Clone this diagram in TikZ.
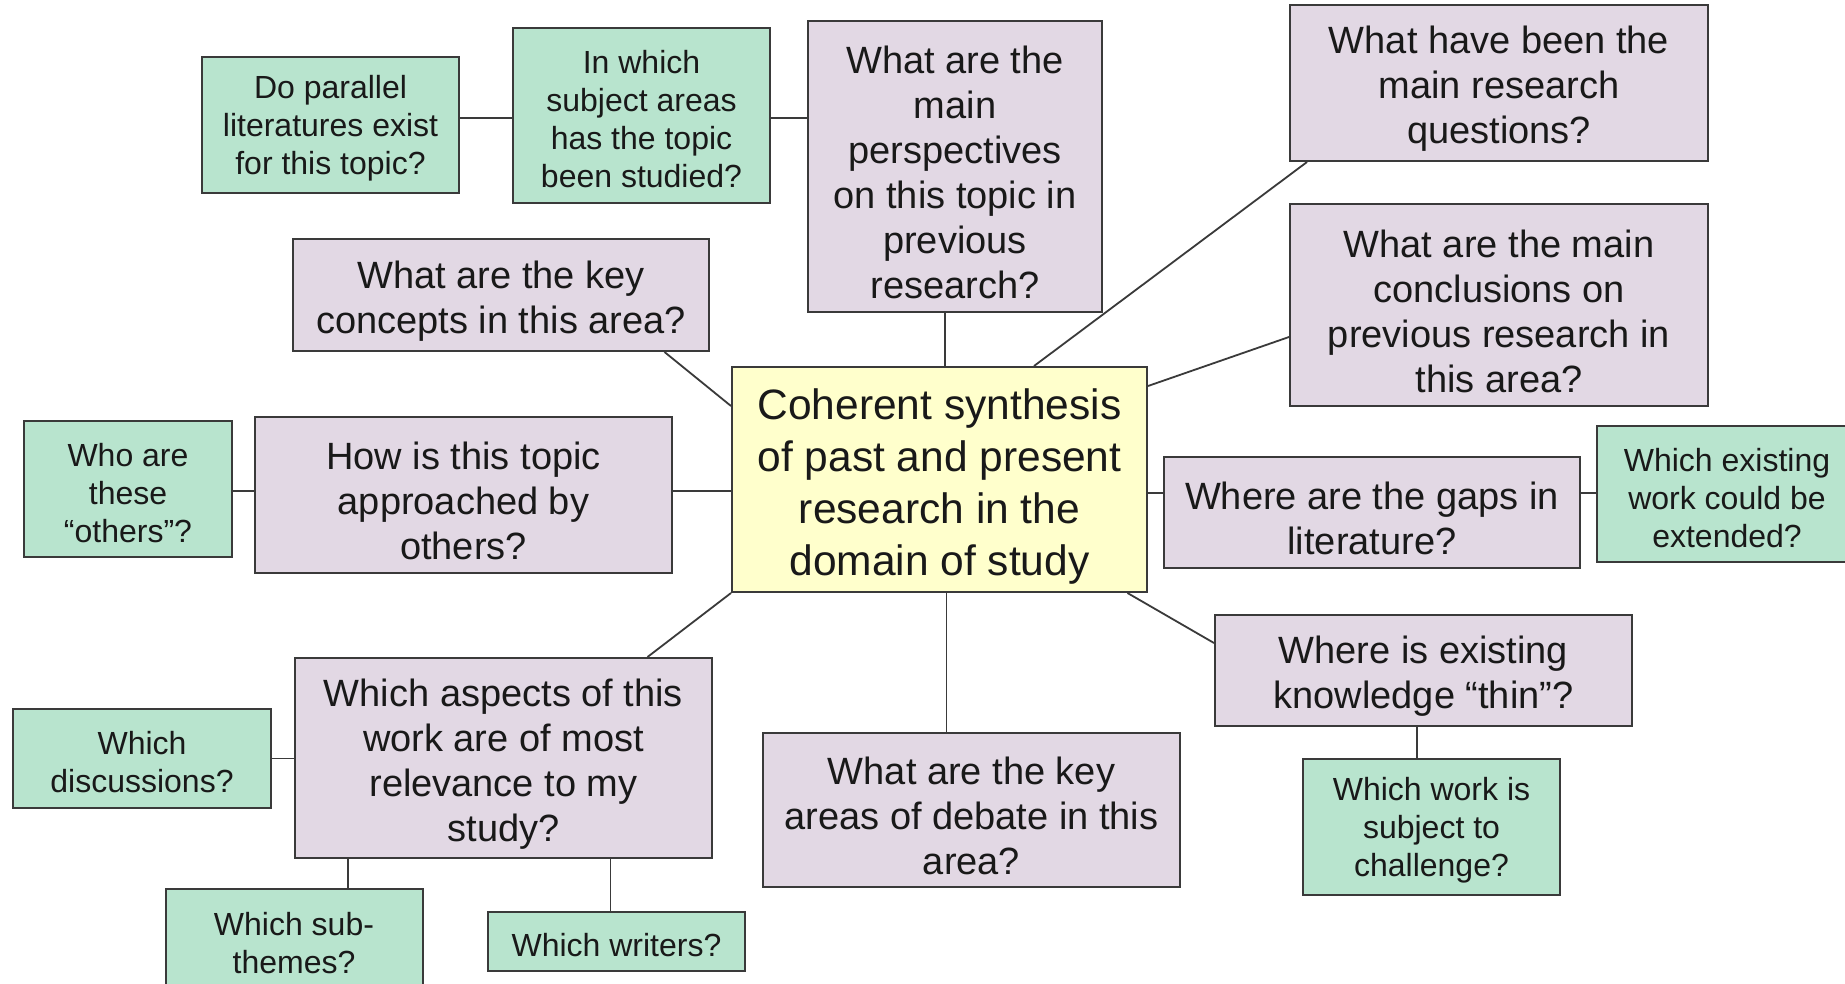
\documentclass[tikz,border=0pt]{standalone}
\usepackage{fontspec}
\setmainfont{Liberation Sans}
\definecolor{pur}{HTML}{E2D8E4}
\definecolor{grn}{HTML}{B8E4CE}
\definecolor{yel}{HTML}{FFFFCC}
\definecolor{edge}{HTML}{3A3A3A}
\newcommand\tpp{\rule{0pt}{1.04em}}
\newcommand\tpg{\rule{0pt}{0.95em}}
\begin{document}
\begin{tikzpicture}[x=1pt,y=-1pt,
  box/.style={draw=edge,line width=2pt,inner sep=0pt,align=center,text=black!90},
  pbox/.style={box,fill=pur,font=\fontsize{38}{45}\selectfont},
  gbox/.style={box,fill=grn,font=\fontsize{32}{38}\selectfont},
  cbox/.style={box,fill=yel,font=\fontsize{42.5}{52}\selectfont},
  link/.style={draw=edge,line width=1.8pt}]
\fill[white] (0,0) rectangle (1845,983);
\useasboundingbox (0,0) rectangle (1845,983);

\node[gbox,minimum width=257pt,minimum height=136pt] (n1) at (330.5,125) {\tpg Do parallel\\literatures exist\\for this topic?};
\node[gbox,minimum width=257pt,minimum height=175pt] (n2) at (641.5,115.5) {\tpg In which\\subject areas\\has the topic\\been studied?};
\node[pbox,minimum width=294pt,minimum height=291pt] (n3) at (955,166.5) {\tpp What are the\\main\\perspectives\\on this topic in\\previous\\research?};
\node[pbox,minimum width=418pt,minimum height=156pt] (n4) at (1499,83) {\tpp What have been the\\main research\\questions?};
\node[pbox,minimum width=418pt,minimum height=202pt] (n5) at (1499,305) {\tpp What are the main\\conclusions on\\previous research in\\this area?};
\node[pbox,minimum width=416pt,minimum height=112pt] (n6) at (501,295) {\tpp What are the key\\concepts in this area?};
\node[cbox,minimum width=415pt,minimum height=225pt] (c) at (939.5,479.5) {\tpp Coherent synthesis\\of past and present\\research in the\\domain of study};
\node[gbox,minimum width=208pt,minimum height=136pt] (n8) at (128,489) {\tpg Who are\\these\\“others”?};
\node[pbox,minimum width=417pt,minimum height=156pt] (n9) at (463.5,495) {\tpp How is this topic\\approached by\\others?};
\node[pbox,minimum width=416pt,minimum height=111pt] (n10) at (1372,512.5) {\tpp Where are the gaps in\\literature?};
\node[gbox,minimum width=260pt,minimum height=136pt] (n11) at (1727,494) {\tpg Which existing\\work could be\\extended?};
\node[pbox,minimum width=417pt,minimum height=200pt] (n12) at (503.5,758) {\tpp Which aspects of this\\work are of most\\relevance to my\\study?};
\node[gbox,minimum width=258pt,minimum height=99pt] (n13) at (142,758.5) {\tpg Which\\discussions?};
\node[pbox,minimum width=417pt,minimum height=154pt] (n14) at (971.5,810) {\tpp What are the key\\areas of debate in this\\area?};
\node[pbox,minimum width=417pt,minimum height=111pt] (n15) at (1423.5,670.5) {\tpp Where is existing\\knowledge “thin”?};
\node[gbox,minimum width=257pt,minimum height=136pt] (n16) at (1431.5,827) {\tpg Which work is\\subject to\\challenge?};
\node[gbox,minimum width=257pt,minimum height=101pt] (n17) at (294,939.5) {\tpg Which sub-\\themes?};
\node[gbox,minimum width=257pt,minimum height=59pt] (n18) at (616.5,941.5) {\tpg Which writers?};

\draw[link] ([yshift=7pt]n1.east) -- ([yshift=7pt]n1.east -| n2.west);
\draw[link] ([yshift=-2.5pt]n2.east) -- ([yshift=-2.5pt]n2.east -| n3.west);
\draw[link] ([xshift=-10pt]n3.south) -- ([xshift=-10pt]n3.south |- c.north);
\draw[link] ([xshift=18pt]n4.south west) -- ([xshift=303pt]c.north west);
\draw[link] ([yshift=-32pt]n5.west) -- ([yshift=-20pt]c.north east);
\draw[link] ([xshift=-45.5pt]n6.south east) -- ([yshift=-40pt]c.north west);
\draw[link] ([yshift=4pt]n9.east) -- ([yshift=4pt]n9.east -| c.west);
\draw[link] ([yshift=-2pt]n8.east) -- ([yshift=-2pt]n8.east -| n9.west);
\draw[link] ([yshift=19.5pt]n10.west) -- ([yshift=19.5pt]n10.west -| c.east);
\draw[link] ([yshift=19.5pt]n10.east) -- ([yshift=19.5pt]n10.east -| n11.west);
\draw[link] (c.south west) -- ([xshift=353.5pt]n12.north west);
\draw[link] (n13.east) -- (n13.east -| n12.west);
\draw[link] ([xshift=54pt]n12.south west) -- ([xshift=54pt]n12.south west |- n17.north);
\draw[link] ([xshift=316.5pt]n12.south west) -- ([xshift=316.5pt]n12.south west |- n18.north);
\draw[link] ([xshift=7pt]c.south) -- ([xshift=7pt]c.south |- n14.north);
\draw[link] ([xshift=-20.5pt]c.south east) -- ([yshift=27.5pt]n15.west);
\draw[link] ([xshift=-6.5pt]n15.south) -- ([xshift=-6.5pt]n15.south |- n16.north);
\end{tikzpicture}
\end{document}
